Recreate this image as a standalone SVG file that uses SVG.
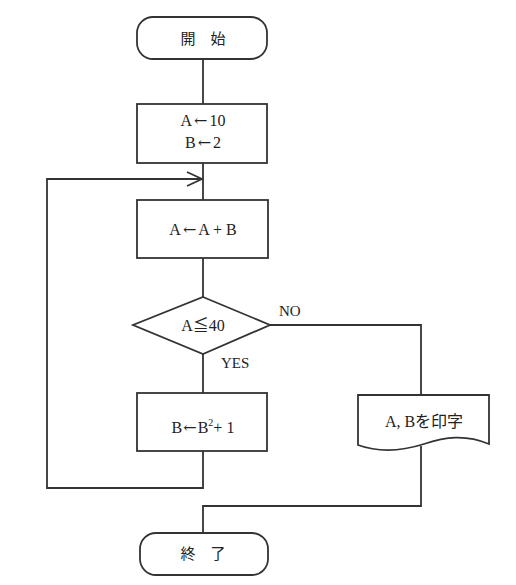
<svg xmlns="http://www.w3.org/2000/svg" width="516" height="585" viewBox="0 0 516 585">
<style>
.s{fill:#fff;stroke:#333;stroke-width:1.8}
.c{fill:none;stroke:#333;stroke-width:1.8}
text{font-family:"Liberation Serif","Noto Sans CJK JP",serif;font-size:16px;fill:#222;text-anchor:middle}
.l{text-anchor:start;font-size:15px}
.a{font-family:"DejaVu Serif",serif;font-size:16px}
.j{font-size:15px}
</style>
<rect width="516" height="585" fill="#fff"/>
<g id="connectors">
<path class="c" d="M203,59 V104"/>
<path class="c" d="M203,163 V200"/>
<path class="c" d="M203,258 V297"/>
<path class="c" d="M203,354 V393"/>
<path class="c" d="M203,451 V488 H47 V179 H203"/>
<path class="c" d="M187,172 L202,179 L187,186"/>
<path class="c" d="M270,325 H421 V395"/>
<path class="c" d="M421,446 V506 H203 V533"/>
<text class="l" x="279" y="316">NO</text>
<text class="l" x="221" y="368">YES</text>
</g>
<g id="start">
<rect class="s" x="137" y="17" width="130" height="42" rx="16"/>
<text class="j" x="203" y="44">開　始</text>
</g>
<g id="init">
<rect class="s" x="137" y="104" width="130" height="59"/>
<text x="203" y="126">A<tspan class="a" dx="2">←</tspan><tspan dx="2">10</tspan></text>
<text x="203" y="148">B<tspan class="a" dx="2">←</tspan><tspan dx="2">2</tspan></text>
</g>
<g id="add">
<rect class="s" x="137" y="200" width="131" height="58"/>
<text x="203" y="235">A<tspan class="a" dx="2">←</tspan><tspan dx="2">A + B</tspan></text>
</g>
<g id="cond">
<path class="s" d="M203,297 L270,325 L203,354 L133,325 Z"/>
<text x="203" y="331">A≦40</text>
</g>
<g id="square">
<rect class="s" x="137" y="393" width="130" height="58"/>
<text x="203" y="433">B<tspan class="a" dx="1">←</tspan><tspan dx="1">B</tspan><tspan font-size="10" dy="-7">2</tspan><tspan dy="7">+ 1</tspan></text>
</g>
<g id="print">
<path class="s" d="M358,395 H489 V444 C465,434 445,437 424,444 C402,451 380,453 358,445 Z"/>
<text x="424" y="427">A, Bを印字</text>
</g>
<g id="end">
<rect class="s" x="140" y="533" width="128" height="42" rx="16"/>
<text class="j" x="203" y="559">終　了</text>
</g>
</svg>
